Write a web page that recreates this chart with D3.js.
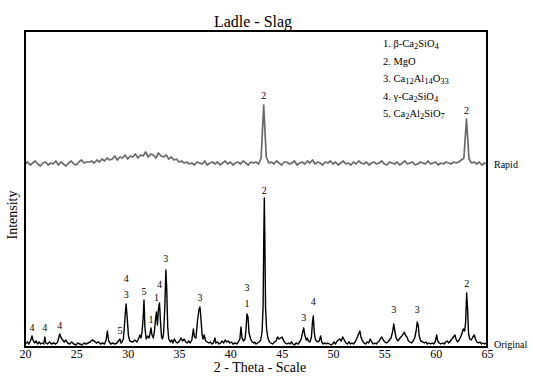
<!DOCTYPE html>
<html><head><meta charset="utf-8">
<script src="https://cdn.jsdelivr.net/npm/d3@7"></script>
<style>body{margin:0;background:#fff}svg{display:block}text{font-family:"Liberation Serif","Times New Roman",serif}</style>
</head><body><svg id="c" width="533" height="383" font-family="Liberation Serif, Times New Roman, serif"></svg>
<script>
// ---- data ----
const xTicks = [20,25,30,35,40,45,50,55,60,65];
const original = [[20.0,3],[20.23,5],[20.38,3],[20.53,6],[20.68,11],[20.78,7],[20.93,4],[21.08,6],[21.23,3],[21.38,5],[21.53,3],[21.68,4],[21.83,3],[21.93,10],[22.03,4],[22.18,3],[22.38,5],[22.58,3],[22.78,4],[22.98,3],[23.18,5],[23.38,13],[23.53,9],[23.68,7],[23.83,5],[23.98,7],
[24.15,4],[24.35,3],[24.55,5],[24.75,3],[24.95,2],[25.15,4],[25.35,3],[25.55,2],[25.75,4],[25.95,3],[26.15,4],[26.35,5],[26.55,7],[26.75,6],[26.95,4],[27.15,5],[27.35,3],[27.55,4],[27.75,3],[27.9,7],[28.02,16],[28.15,6],
[28.35,3],[28.55,4],[28.75,3],[28.95,4],[29.1,6],[29.25,8],[29.35,4],[29.45,5],[29.58,8],[29.68,20],[29.77,34],[29.85,43],[29.95,30],[30.07,12],[30.2,6],
[30.5,5],[30.7,7],[30.9,5],[31.05,8],[31.2,12],[31.3,9],[31.4,15],[31.5,28],[31.59,47],[31.68,20],[31.8,8],[31.95,11],[32.1,9],[32.27,19],[32.37,12],
[32.5,9],[32.6,15],[32.72,28],[32.8,35],[32.9,22],[33.0,38],[33.1,44],[33.2,25],[33.3,10],[33.4,8],[33.5,14],[33.62,40],[33.72,77],[33.8,60],[33.9,20],[34.0,8],[34.15,5],[34.3,7],
[34.4,4],[34.55,8],[34.7,5],[34.85,4],[35.05,6],[35.2,9],[35.35,6],[35.5,8],[35.65,5],[35.8,4],[35.95,6],[36.1,4],[36.25,7],[36.4,18],[36.5,10],[36.65,9],[36.8,26],[36.95,38],[37.04,40],[37.14,28],[37.25,12],[37.35,8],[37.45,12],
[37.6,6],[37.75,5],[37.9,4],[38.05,5],[38.2,3],[38.35,4],[38.5,9],[38.6,4],[38.75,5],[38.9,3],[39.05,4],[39.2,6],[39.35,4],[39.5,7],[39.65,5],[39.8,6],[39.95,4],[40.1,5],[40.25,3],
[40.48,4],[40.63,3],[40.78,5],[40.93,8],[41.04,20],[41.14,9],[41.28,6],[41.43,8],[41.53,18],[41.62,33],[41.72,30],[41.82,14],[41.98,8],[42.13,5],[42.28,4],
[42.36,5],[42.51,3],[42.66,4],[42.81,5],[42.96,7],[43.09,15],[43.19,40],[43.26,110],[43.31,149],[43.36,110],[43.43,40],[43.53,18],[43.66,9],[43.81,5],[43.96,4],[44.11,3],
[44.3,5],[44.45,6],[44.6,10],[44.75,8],[44.9,9],[45.05,10],[45.2,6],[45.35,4],[45.5,3],[45.65,4],[45.8,3],[45.95,5],[46.1,3],[46.25,2],[46.4,4],
[46.6,3],[46.75,5],[46.9,8],[47.05,15],[47.15,19],[47.25,12],[47.4,7],[47.5,9],[47.6,6],[47.75,5],[47.9,10],[48.0,25],[48.08,31],[48.18,14],[48.3,7],
[48.5,5],[48.65,6],[48.8,11],[48.9,5],[49.05,3],[49.2,4],[49.35,3],[49.5,4],[49.65,3],[49.8,2],[49.95,3],[50.1,5],[50.25,3],[50.4,6],
[50.65,8],[50.8,6],[50.95,10],[51.1,7],[51.25,4],[51.4,3],[51.55,5],[51.7,3],[51.85,4],[52.0,3],[52.15,5],[52.3,8],[52.45,12],
[52.62,16],[52.72,10],[52.87,6],[53.02,4],[53.17,3],[53.32,5],[53.47,4],[53.62,8],[53.77,5],[53.92,3],[54.07,4],[54.22,3],[54.37,5],[54.52,6],
[54.6,8],[54.75,10],[54.9,7],[55.05,5],[55.2,4],[55.35,5],[55.5,7],[55.65,9],[55.8,15],[55.92,23],[56.02,16],[56.15,9],[56.3,6],[56.45,8],
[56.7,11],[56.85,13],[56.95,15],[57.05,12],[57.2,10],[57.35,6],[57.5,5],[57.65,4],[57.8,6],[57.95,9],[58.1,16],[58.2,25],[58.3,22],[58.4,11],[58.55,6],
[58.75,5],[58.9,4],[59.05,5],[59.2,3],[59.35,4],[59.5,3],[59.65,4],[59.8,3],[59.95,5],[60.1,12],[60.2,6],[60.35,4],[60.5,3],
[60.68,4],[60.83,3],[60.98,5],[61.13,6],[61.28,4],[61.43,6],[61.58,8],[61.73,10],[61.88,12],[61.98,8],[62.13,5],[62.28,7],[62.43,10],[62.58,14],[62.68,18],
[62.82,16],[62.92,25],[63.02,54],[63.1,40],[63.2,14],[63.32,8],[63.47,7],[63.62,10],[63.77,12],[63.87,8],[64.02,5],[64.17,4],[64.32,5],[64.47,3],[64.62,4],[64.77,3],[64.92,4],[65.0,3]];
// Rapid pattern, sampled every 0.25 deg from 20.0 deg
const rapidStart = 20.0, rapidStep = 0.25;
const rapidValues = [0,2,-1,1,3,0,-2,1,2,
 -1,1,0,3,-1,2,0,-2,
 1,3,0,-1,2,4,1,2,
 2,3,1,4,2,5,3,6,
 4,5,8,4,7,6,9,5,
 8,7,10,6,9,8,12,7,
 10,9,6,11,8,7,9,5,
 7,4,5,2,3,1,2,0,
 1,-1,2,1,0,3,-1,1,
 2,0,2,-1,1,3,0,2,
 -1,1,2,0,3,1,-1,2,
 1,2,0,6,59,7,1,2,
 0,3,1,-1,2,2,0,1,
 3,-1,1,2,0,3,1,4,
 0,2,1,-1,2,1,3,0,
 2,-1,1,3,0,1,-1,2,
 0,3,1,0,2,-1,1,2,
 0,1,3,0,-1,2,1,0,
 2,-1,1,3,0,1,2,-1,
 0,2,1,0,3,0,1,2,
 -1,1,0,2,1,0,2,1,
 2,4,6,45,5,1,2,0,
 2,-1,1,0];
const rapidOffset = 183;
const originalLabels = [[20.68,"4",20],[21.93,"4",20],[23.38,"4",22],[29.25,"5",17],[29.85,"3",53],[29.85,"4",69],[31.59,"5",56],[32.27,"1",28],[32.8,"1",50],[33.1,"4",63],[33.72,"3",89],[37.04,"3",50],[41.62,"1",44],[41.62,"3",60],[43.31,"2",157],[47.15,"3",30],[48.08,"4",46],[55.92,"3",38],[58.2,"3",38],[63.02,"2",64]];
const rapidLabels = [[43.25,"2",69],[63.0,"2",54]];
const legendItems = [
  [["1.  β-Ca",""],["2","sub"],["SiO",""],["4","sub"]],
  [["2. MgO",""]],
  [["3. Ca",""],["12","sub"],["Al",""],["14","sub"],["O",""],["33","sub"]],
  [["4. γ-Ca",""],["2","sub"],["SiO",""],["4","sub"]],
  [["5. Ca",""],["2","sub"],["Al",""],["2","sub"],["SiO",""],["7","sub"]]
];
const seriesNames = ["Rapid","Original"];

// ---- drawing ----
const svg = d3.select("#c");
svg.append("rect").attr("width",533).attr("height",383).attr("fill","#fff");
const x = d3.scaleLinear().domain([20,65]).range([25,487]);
const y = d3.scaleLinear().domain([0,316]).range([347,31]);

const line = d3.line().x(d=>x(d[0])).y(d=>y(d[1]));
const rapid = rapidValues.map((v,i)=>[rapidStart+i*rapidStep, v+rapidOffset]);

svg.append("clipPath").attr("id","pc").append("rect")
  .attr("x",25).attr("y",31).attr("width",462).attr("height",316);
const g = svg.append("g").attr("clip-path","url(#pc)");
g.append("path").datum(rapid).attr("d",line).attr("fill","none")
  .attr("stroke","#6a6a6a").attr("stroke-width",1.7).attr("stroke-linejoin","round");
g.append("path").datum(original).attr("d",line).attr("fill","none")
  .attr("stroke","#000").attr("stroke-width",1.4).attr("stroke-linejoin","round");

// axis
const ax = svg.append("g").attr("transform","translate(0,347)")
  .call(d3.axisBottom(x).tickValues(xTicks).tickSize(1).tickPadding(1).tickFormat(d3.format("d")));
ax.select(".domain").remove();
ax.selectAll("text").attr("font-size",12).attr("font-family","Liberation Serif, serif").attr("fill","#000");
ax.selectAll("line").attr("stroke","#000");

// frame
svg.append("rect").attr("x",25).attr("y",31).attr("width",462).attr("height",316)
  .attr("fill","none").attr("stroke","#000").attr("stroke-width",2);

// peak labels
const lab = (arr, off) => svg.append("g").selectAll("text").data(arr).join("text")
  .attr("x",d=>x(d[0])).attr("y",d=>y(d[2]+off)).attr("text-anchor","middle")
  .attr("dominant-baseline","central").attr("font-size",10).text(d=>d[1]);
lab(originalLabels,0);
lab(rapidLabels,rapidOffset);

// legend
const lg = svg.append("g");
legendItems.forEach((parts,i)=>{
  const t = lg.append("text").attr("x",383).attr("y",47+i*17.6).attr("font-size",10.5);
  parts.forEach(p=>{
    const ts = t.append("tspan").text(p[0]);
    if(p[1]==="sub") ts.attr("baseline-shift","-25%").attr("font-size",8.5);
  });
});

// series names
svg.append("text").attr("x",494).attr("y",y(rapidOffset)).attr("dominant-baseline","central")
  .attr("font-size",10).text(seriesNames[0]);
svg.append("text").attr("x",494).attr("y",y(3)).attr("dominant-baseline","central")
  .attr("font-size",10).text(seriesNames[1]);

// titles
svg.append("text").attr("x",253).attr("y",27).attr("text-anchor","middle").attr("font-size",16).text("Ladle - Slag");
svg.append("text").attr("x",260).attr("y",372).attr("text-anchor","middle").attr("font-size",14).text("2 - Theta - Scale");
svg.append("text").attr("transform","translate(17,215) rotate(-90)").attr("text-anchor","middle").attr("font-size",14).text("Intensity");
</script></body></html>
